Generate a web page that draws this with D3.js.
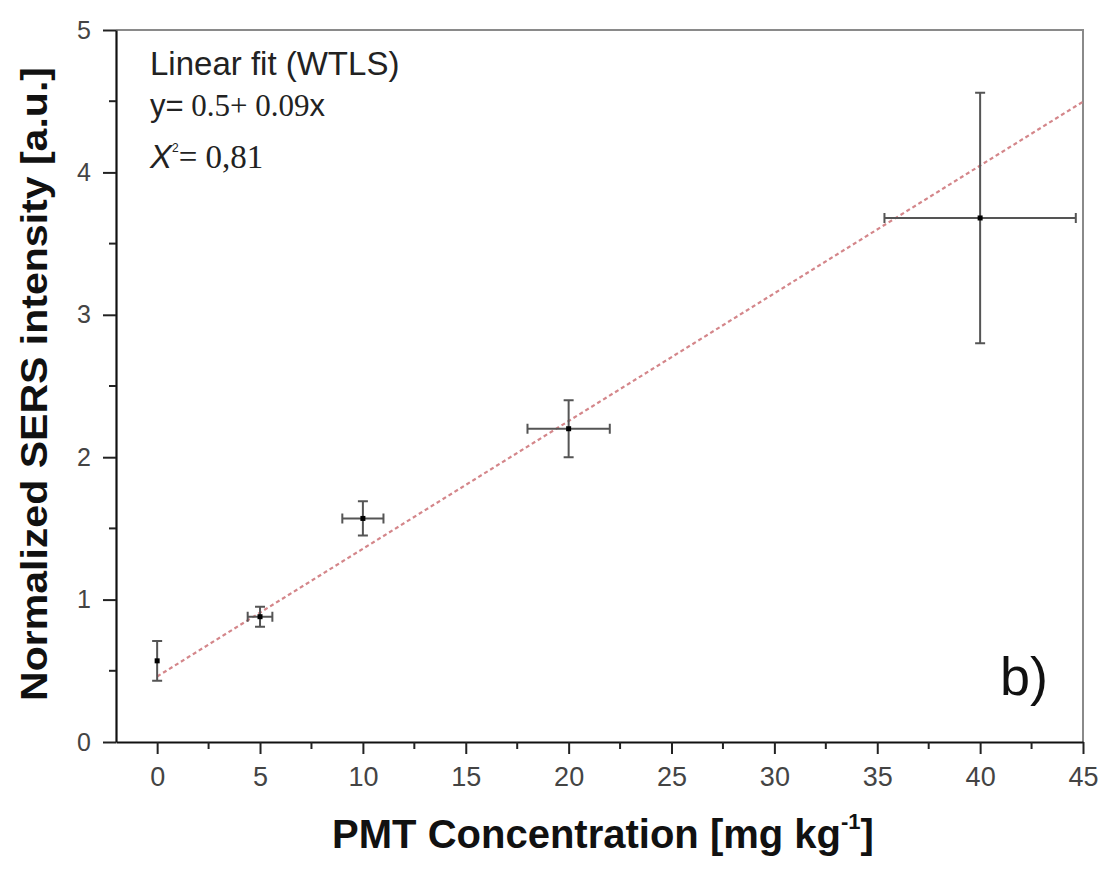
<!DOCTYPE html>
<html>
<head>
<meta charset="UTF-8" />
<title>SERS linear fit</title>
<script src="https://d3js.org/d3.v7.min.js"></script>
<style>
  body { margin: 0; background: #fff; }
  text { font-family: "Liberation Sans", Arial, sans-serif; }
</style>
</head>
<body>
<svg id="chart" width="1105" height="871"></svg>
<script>
// data
var conc    = [0, 5, 10, 20, 40]          // PMT concentration [mg/kg]
var sers    = [0.57, 0.88, 1.57, 2.20, 3.68]
var sersErr = [0.14, 0.07, 0.12, 0.20, 0.88]
var concErr = [0, 0.6, 1.0, 2.0, 4.65]
var fit     = { a: 0.46, b: 0.0897, from: 0, to: 45 }
var xTicks  = [0, 5, 10, 15, 20, 25, 30, 35, 40, 45]
var yTicks  = [0, 1, 2, 3, 4, 5]

var svg = d3.select("#chart")
var pl = 116, pr = 1083, pt = 30, pb = 742

var x = d3.scaleLinear().domain([-2, 45]).range([pl, pr])
var y = d3.scaleLinear().domain([0, 5]).range([pb, pt])

// frame top + right (grey)
svg.append("path")
  .attr("d", `M${pl},${pt}H${pr}V${pb}`)
  .attr("fill", "none").attr("stroke", "#8a8a8a").attr("stroke-width", 2)

// minor ticks
var xMinor = d3.range(-2.5, 45.01, 2.5).filter(v => v >= -2 && v % 5 != 0)
var yMinor = d3.range(0.5, 5, 1)

var xAxis = svg.append("g").attr("transform", `translate(0,${pb})`)
  .call(d3.axisBottom(x).tickValues(xTicks).tickSize(12).tickPadding(13).tickSizeOuter(0))
xAxis.append("g").selectAll("line").data(xMinor).join("line")
  .attr("x1", d => x(d)).attr("x2", d => x(d)).attr("y1", 0).attr("y2", 7)
  .attr("stroke", "#222").attr("stroke-width", 2)

var yAxis = svg.append("g").attr("transform", `translate(${pl},0)`)
  .call(d3.axisLeft(y).tickValues(yTicks).tickFormat(d3.format("d")).tickSize(13).tickPadding(12).tickSizeOuter(0))
yAxis.append("g").selectAll("line").data(yMinor).join("line")
  .attr("y1", d => y(d)).attr("y2", d => y(d)).attr("x1", 0).attr("x2", -7)
  .attr("stroke", "#222").attr("stroke-width", 2)

svg.selectAll(".domain").attr("stroke", "#111").attr("stroke-width", 2.2)
svg.selectAll(".tick line").attr("stroke", "#222").attr("stroke-width", 2)
svg.selectAll(".tick text").attr("fill", "#444")
  .style("font-family", "'Liberation Sans', Arial, sans-serif")
xAxis.selectAll(".tick text").attr("font-size", 27)
yAxis.selectAll(".tick text").attr("font-size", 25)

// fit line
svg.append("line")
  .attr("x1", x(fit.from)).attr("y1", y(fit.a + fit.b * fit.from))
  .attr("x2", x(fit.to)).attr("y2", y(fit.a + fit.b * fit.to))
  .attr("stroke", "#d4868a").attr("stroke-width", 2.2)
  .attr("stroke-dasharray", "4,3")

// error bars
var pts = conc.map((c, i) => ({ x: c, y: sers[i], ex: concErr[i], ey: sersErr[i] }))
var cap = 5
var eb = svg.append("g").attr("stroke", "#555").attr("stroke-width", 2).attr("fill", "none")
pts.forEach(p => {
  eb.append("path").attr("d",
    `M${x(p.x)},${y(p.y + p.ey)}V${y(p.y - p.ey)}` +
    `M${x(p.x) - cap},${y(p.y + p.ey)}h${2 * cap}` +
    `M${x(p.x) - cap},${y(p.y - p.ey)}h${2 * cap}`)
  if (p.ex > 0) {
    eb.append("path").attr("d",
      `M${x(p.x - p.ex)},${y(p.y)}H${x(p.x + p.ex)}` +
      `M${x(p.x - p.ex)},${y(p.y) - cap}v${2 * cap}` +
      `M${x(p.x + p.ex)},${y(p.y) - cap}v${2 * cap}`)
  }
})
svg.append("g").selectAll("rect").data(pts).join("rect")
  .attr("x", d => x(d.x) - 2.5).attr("y", d => y(d.y) - 2.5)
  .attr("width", 5).attr("height", 5).attr("fill", "#000")

// annotation
var serif = "'Liberation Serif', 'Times New Roman', serif"
var ann = svg.append("g").attr("fill", "#222")
ann.append("text").attr("x", 150).attr("y", 75).attr("font-size", 33).text("Linear fit (WTLS)")
var eq = ann.append("text").attr("x", 150).attr("y", 116).attr("font-size", 31)
eq.append("tspan").text("y=")
eq.append("tspan").style("font-family", serif).text(" 0.5+ 0.09")
eq.append("tspan").text("x")
var chi = ann.append("text").attr("x", 150).attr("y", 168).attr("font-size", 33)
chi.append("tspan").attr("font-style", "italic").text("X")
chi.append("tspan").attr("font-size", 12).attr("dy", -16).text("2")
chi.append("tspan").attr("dy", 16).style("font-family", serif).text("= 0,81")

svg.append("text").attr("x", 1000).attr("y", 695).attr("font-size", 54).attr("fill", "#111").text("b)")

// axis titles
var xt = svg.append("text").attr("x", 603).attr("y", 848).attr("text-anchor", "middle")
  .attr("font-size", 40).attr("font-weight", "bold").attr("fill", "#111")
xt.append("tspan").text("PMT Concentration [mg kg")
xt.append("tspan").attr("font-size", 22).attr("dy", -19).text("-1")
xt.append("tspan").attr("dy", 19).text("]")

svg.append("text").attr("transform", "translate(47,384) rotate(-90)")
  .attr("text-anchor", "middle").attr("font-size", 36).attr("font-weight", "bold").attr("fill", "#111")
  .attr("textLength", 634).attr("lengthAdjust", "spacingAndGlyphs")
  .text("Normalized SERS intensity [a.u.]")
</script>
</body>
</html>
